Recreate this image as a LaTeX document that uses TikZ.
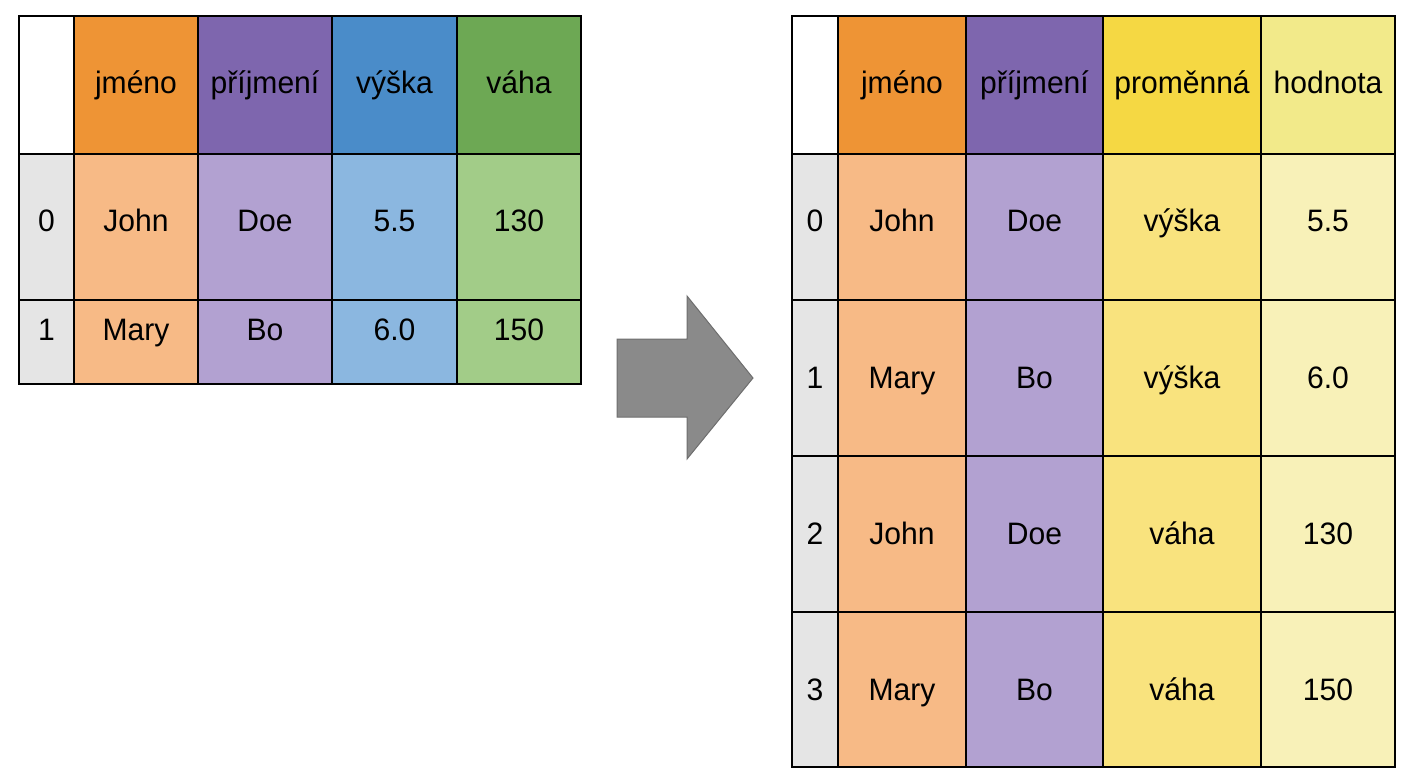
\documentclass[tikz,border=0pt]{standalone}
\usepackage{fontspec}
\setmainfont{Liberation Sans}[FakeStretch=0.97]
\definecolor{orH}{HTML}{EE9435}
\definecolor{orB}{HTML}{F7BA86}
\definecolor{puH}{HTML}{7E66AE}
\definecolor{puB}{HTML}{B2A1D1}
\definecolor{blH}{HTML}{4A8CC9}
\definecolor{blB}{HTML}{8BB7E0}
\definecolor{grH}{HTML}{6DA854}
\definecolor{grB}{HTML}{A2CC88}
\definecolor{idxC}{HTML}{E5E5E5}
\definecolor{yeH}{HTML}{F5D843}
\definecolor{yeB}{HTML}{F9E37E}
\definecolor{hoH}{HTML}{F2EA8A}
\definecolor{hoB}{HTML}{F8F1B8}
\definecolor{arrF}{HTML}{8A8A8A}
\definecolor{arrD}{HTML}{6E6E6E}
\begin{document}
\begin{tikzpicture}[x=1pt,y=-1pt,
  cell/.style={draw=black,line width=2pt,anchor=north west,inner sep=0pt,
    font=\fontsize{31}{34}\selectfont,text=black,text height=22pt,text depth=6pt},
  rowA/.style={text depth=14pt},
  rowB/.style={text depth=26pt},
  rowC/.style={text depth=1pt},
  wh/.style 2 args={minimum width=#1pt,minimum height=#2pt}]
\useasboundingbox (0,0) rectangle (1408,768);
% ---------- left table ----------
% columns: 18,73,197,331,456,580 ; rows: 15,153,299,383
\node[cell,fill=white,wh={55}{138}] (Lh0) at (18,15) {};
\node[cell,fill=orH,wh={124}{138}] (Lh1) at (73,15) {jméno};
\node[cell,fill=puH,wh={134}{138}] (Lh2) at (197,15) {příjmení};
\node[cell,fill=blH,wh={125}{138}] (Lh3) at (331,15) {výška};
\node[cell,fill=grH,wh={124}{138}] (Lh4) at (456,15) {váha};
\node[cell,rowA,fill=idxC,wh={55}{146}] (La0) at (18,153) {0};
\node[cell,rowA,fill=orB,wh={124}{146}] (La1) at (73,153) {John};
\node[cell,rowA,fill=puB,wh={134}{146}] (La2) at (197,153) {Doe};
\node[cell,rowA,fill=blB,wh={125}{146}] (La3) at (331,153) {5.5};
\node[cell,rowA,fill=grB,wh={124}{146}] (La4) at (456,153) {130};
\node[cell,rowB,fill=idxC,wh={55}{84}] (Lb0) at (18,299) {1};
\node[cell,rowB,fill=orB,wh={124}{84}] (Lb1) at (73,299) {Mary};
\node[cell,rowB,fill=puB,wh={134}{84}] (Lb2) at (197,299) {Bo};
\node[cell,rowB,fill=blB,wh={125}{84}] (Lb3) at (331,299) {6.0};
\node[cell,rowB,fill=grB,wh={124}{84}] (Lb4) at (456,299) {150};
% ---------- arrow ----------
\fill[arrF,draw=arrD,line width=1pt]
  (617,339) -- (687,339) -- (687,296) -- (753,378) -- (687,459) -- (687,417) -- (617,417) -- cycle;
% ---------- right table ----------
% columns: 791,837,965,1102,1260,1394 ; rows: 15,153,299,455,611,766
\node[cell,fill=white,wh={46}{138}] (Rh0) at (791,15) {};
\node[cell,fill=orH,wh={128}{138}] (Rh1) at (837,15) {jméno};
\node[cell,fill=puH,wh={137}{138}] (Rh2) at (965,15) {příjmení};
\node[cell,fill=yeH,wh={158}{138}] (Rh3) at (1102,15) {proměnná};
\node[cell,fill=hoH,wh={134}{138}] (Rh4) at (1260,15) {hodnota};
\node[cell,rowA,fill=idxC,wh={46}{146}] (Ra0) at (791,153) {0};
\node[cell,rowA,fill=orB,wh={128}{146}] (Ra1) at (837,153) {John};
\node[cell,rowA,fill=puB,wh={137}{146}] (Ra2) at (965,153) {Doe};
\node[cell,rowA,fill=yeB,wh={158}{146}] (Ra3) at (1102,153) {výška};
\node[cell,rowA,fill=hoB,wh={134}{146}] (Ra4) at (1260,153) {5.5};
\node[cell,rowC,fill=idxC,wh={46}{156}] (Rb0) at (791,299) {1};
\node[cell,rowC,fill=orB,wh={128}{156}] (Rb1) at (837,299) {Mary};
\node[cell,rowC,fill=puB,wh={137}{156}] (Rb2) at (965,299) {Bo};
\node[cell,rowC,fill=yeB,wh={158}{156}] (Rb3) at (1102,299) {výška};
\node[cell,rowC,fill=hoB,wh={134}{156}] (Rb4) at (1260,299) {6.0};
\node[cell,rowC,fill=idxC,wh={46}{156}] (Rc0) at (791,455) {2};
\node[cell,rowC,fill=orB,wh={128}{156}] (Rc1) at (837,455) {John};
\node[cell,rowC,fill=puB,wh={137}{156}] (Rc2) at (965,455) {Doe};
\node[cell,rowC,fill=yeB,wh={158}{156}] (Rc3) at (1102,455) {váha};
\node[cell,rowC,fill=hoB,wh={134}{156}] (Rc4) at (1260,455) {130};
\node[cell,rowC,fill=idxC,wh={46}{155}] (Rd0) at (791,611) {3};
\node[cell,rowC,fill=orB,wh={128}{155}] (Rd1) at (837,611) {Mary};
\node[cell,rowC,fill=puB,wh={137}{155}] (Rd2) at (965,611) {Bo};
\node[cell,rowC,fill=yeB,wh={158}{155}] (Rd3) at (1102,611) {váha};
\node[cell,rowC,fill=hoB,wh={134}{155}] (Rd4) at (1260,611) {150};
\end{tikzpicture}
\end{document}
